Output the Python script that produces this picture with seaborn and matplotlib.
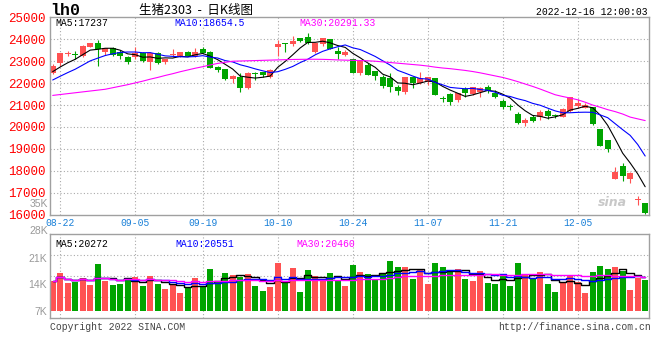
import numpy as np
import pandas as pd
import matplotlib
matplotlib.use("Agg")
import matplotlib.pyplot as plt
import seaborn as sns

sns.set_theme(style="white")
plt.rcParams["font.family"] = ["Liberation Mono", "DejaVu Sans"]

# daily k-line, 08-19 .. 12-16
opens = [22478, 22904, 23345, 23330, 23238, 23664, 23816, 23436, 23603, 23405,
         23177, 23208, 23360, 22980, 23390, 22965, 23300, 23238, 23421, 23238,
         23558, 23405, 22736, 22660, 22174, 22265, 21793, 22432, 22493, 22295,
         23634, 23800, 23771, 24060, 24121, 23406, 23786, 23999, 23466, 23299,
         23086, 22447, 22828, 22569, 22295, 22219, 21839, 21611, 22295, 21991,
         22067, 22250, 21272, 21504, 21231, 21732, 21504, 21611, 21839, 21565,
         21185, 20942, 20577, 20166, 20470, 20440, 20729, 20516, 20470, 20744,
         20957, 20881, 20896, 19907, 19405, 17641, 18219, 17611, 16660, 16546]
highs = [22873, 23390, 23482, 23466, 23725, 23840, 23968, 23603, 23634, 23512,
         23238, 23664, 23405, 23405, 23421, 23117, 23542, 23436, 23450, 23588,
         23664, 23466, 22797, 22660, 22371, 22447, 22523, 22523, 22523, 22630,
         23968, 23847, 24151, 24060, 24273, 23816, 24045, 24030, 23634, 23512,
         23117, 23056, 22904, 22569, 22371, 22447, 21915, 22295, 22295, 22523,
         22295, 22250, 21413, 21565, 21565, 21839, 21839, 21839, 21915, 21690,
         21276, 21048, 20698, 20394, 20546, 20774, 20805, 20592, 20851, 21352,
         21261, 21078, 20896, 19907, 19405, 18189, 18371, 17930, 16850, 16546]
lows = [22417, 22782, 23238, 23086, 23208, 23650, 22797, 23284, 23238, 23117,
        22858, 23117, 22980, 22600, 22889, 22889, 23208, 23208, 23238, 23200,
        23360, 22706, 22530, 22143, 21991, 21611, 21717, 22143, 22265, 22219,
        23253, 23436, 23710, 23900, 23786, 23360, 23710, 23542, 23117, 23238,
        22447, 22371, 22371, 22143, 21793, 21611, 21444, 21505, 21793, 21960,
        21915, 21459, 21124, 21002, 21154, 21352, 21459, 21383, 21565, 21307,
        20805, 20775, 20136, 20060, 20242, 20318, 20349, 20394, 20440, 20698,
        20851, 20851, 20090, 19147, 18873, 17611, 17550, 17428, 16440, 16030]
closes = [22782, 23360, 23360, 23300, 23695, 23816, 23542, 23603, 23299, 23253,
          22980, 23360, 23025, 23360, 22934, 23086, 23315, 23421, 23238, 23405,
          23390, 22706, 22615, 22174, 22326, 21793, 22447, 22417, 22356, 22599,
          23786, 23786, 23923, 23938, 23847, 23816, 24045, 23542, 23330, 23421,
          22478, 23010, 22371, 22326, 21869, 21839, 21641, 22295, 21991, 22250,
          22295, 21459, 21257, 21154, 21535, 21565, 21809, 21763, 21657, 21352,
          20896, 20927, 20196, 20318, 20288, 20698, 20501, 20501, 20805, 21352,
          21078, 21002, 20136, 19147, 19010, 17960, 17763, 17900, 16675, 16059]
volumes = [14870, 16970, 14350, 14520, 15660, 13910, 19340, 14870, 13910, 14170,
           15660, 16010, 13650, 16270, 14170, 12770, 14170, 11810, 13040, 15660,
           13390, 18020, 14870, 16970, 16540, 16010, 16710, 13650, 12340, 13390,
           19690, 14610, 18370, 12070, 17760, 16270, 14870, 16970, 15000, 13560,
           19070, 17240, 16710, 15140, 16970, 20120, 18550, 18550, 15400, 18020,
           14090, 19600, 18550, 17240, 18020, 15400, 14870, 17500, 14350, 14090,
           16450, 13560, 19600, 16450, 15660, 17240, 14090, 11990, 14610, 16450,
           14610, 11720, 17240, 18810, 18020, 18550, 17500, 12510, 15660, 15140]
# closes before the window, only used to start the short averages
pre_closes = [21650, 21700, 21750, 21800, 21910, 22300, 22400, 22500, 22640]
ma30 = [21440, 21480, 21520, 21560, 21600, 21640, 21680, 21720, 21790, 21860,
        21930, 22010, 22090, 22180, 22260, 22350, 22430, 22520, 22600, 22680,
        22750, 22830, 22900, 22950, 23000, 23010, 23020, 23030, 23040, 23050,
        23060, 23070, 23080, 23085, 23090, 23090, 23085, 23075, 23060, 23050,
        23040, 23030, 23020, 23000, 22970, 22940, 22910, 22880, 22850, 22820,
        22780, 22730, 22690, 22660, 22620, 22580, 22530, 22470, 22400, 22330,
        22260, 22170, 22070, 21960, 21850, 21730, 21600, 21470, 21390, 21320,
        21240, 21130, 21000, 20900, 20790, 20700, 20590, 20450, 20370, 20291]

tick_pos = [1, 11, 20, 30, 40, 50, 60, 70]
tick_labels = ["08-22", "09-05", "09-19", "10-10", "10-24", "11-07", "11-21", "12-05"]
price_ticks = list(range(16000, 25001, 1000))
vol_ticks = [7000, 14000, 21000]
vol_ticks_extra = [(28000, "28K"), (35000, "35K")]

RED = "#ff5252"
GREEN = "#00a400"
MA_COLORS = {"ma5": "black", "ma10": "#0000ff", "ma30": "#ff00ff"}
GRID = dict(color="#aaaaaa", linestyle=(0, (1, 2)), linewidth=0.8)

df = pd.DataFrame({"open": opens, "high": highs, "low": lows,
                   "close": closes, "volume": volumes})
df["x"] = np.arange(len(df))
full = pd.Series(pre_closes + closes, dtype=float)
n_pre = len(pre_closes)
df["ma5"] = full.rolling(5).mean().iloc[n_pre:].values
df["ma10"] = full.rolling(10).mean().iloc[n_pre:].values
df["ma30"] = ma30
df["vma5"] = df["volume"].rolling(5, min_periods=1).mean()
df["vma10"] = df["volume"].rolling(10, min_periods=1).mean()
df["vma30"] = df["volume"].rolling(30, min_periods=1).mean()
up = df["close"] >= df["open"]
df["color"] = np.where(up, RED, GREEN)
df["body_lo"] = df[["open", "close"]].min(axis=1)
df["body_h"] = (df["close"] - df["open"]).abs().clip(lower=45)

W, H = 660, 360
fig = plt.figure(figsize=(W / 100, H / 100), dpi=100)


def box(l, t, r, b):
    return [l / W, 1 - b / H, (r - l) / W, (b - t) / H]


ax = fig.add_axes(box(50, 17.4, 649, 214.6))
axv = fig.add_axes(box(50, 234, 649, 318))

# price candles
ax.vlines(df["x"], df["low"], df["high"], colors=df["color"], linewidth=0.8)
ax.bar(df["x"], df["body_h"], bottom=df["body_lo"], width=0.82,
       color=df["color"], linewidth=0)
for col, c in MA_COLORS.items():
    sns.lineplot(data=df, x="x", y=col, ax=ax, color=c, linewidth=0.8)

# volume
axv.bar(df["x"], df["volume"] - 7000, bottom=7000, width=0.82,
        color=df["color"], linewidth=0)
for col, c in zip(["vma5", "vma10", "vma30"], MA_COLORS.values()):
    sns.lineplot(data=df, x="x", y=col, ax=axv, color=c, linewidth=1.0,
                 drawstyle="steps-mid")

for a in (ax, axv):
    a.set_xlim(-0.36, 79.51)
    a.set_xticks(tick_pos)
    a.set_xlabel("")
    a.set_ylabel("")
    a.grid(False)
    for x in tick_pos:
        a.axvline(x, zorder=0, **GRID)
    for s in a.spines.values():
        s.set_color("#a0a0a0")
        s.set_linewidth(1)
    a.tick_params(length=0)

ax.set_ylim(16000, 25000)
ax.set_yticks(price_ticks)
ax.set_yticklabels([str(v) for v in price_ticks])
for v in price_ticks[1:-1]:
    ax.axhline(v, zorder=0, **GRID)
ax.tick_params(axis="y", colors="#ff0000", labelsize=9, pad=2.9)
ax.set_xticklabels(tick_labels)
ax.tick_params(axis="x", colors="#1a80d8", labelsize=7, pad=2.4)

axv.set_ylim(7000 - 7 / 3.81 * 1000, 28000 - 3 / 3.81 * 1000)
axv.set_yticks(vol_ticks)
axv.set_yticklabels([f"{v // 1000}K" for v in vol_ticks], family="Liberation Sans")
axv.tick_params(axis="y", colors="#999999", labelsize=7.5, pad=2.2)
axv.set_xticklabels([])
for f in (0.25, 0.5, 0.75):
    axv.axhline(axv.get_ylim()[0] + f * (axv.get_ylim()[1] - axv.get_ylim()[0]),
                zorder=0, **GRID)
for v, lab in vol_ticks_extra:
    axv.text(-0.004, v, lab, transform=axv.get_yaxis_transform(), ha="right",
             va="center", color="#999999", fontsize=7.5, family="Liberation Sans",
             clip_on=False)


def ftext(x, y, s, **kw):
    fig.text(x / W, 1 - y / H, s, va="center", **kw)


ftext(50, 10.5, "lh0", fontsize=12, fontweight="bold", color="black")
ftext(139, 10.5, "生猪2303  -  日K线图", fontsize=9, color="black",
      family=["Noto Sans CJK SC", "DejaVu Sans"])
ftext(648, 12, "2022-12-16 12:00:03", fontsize=7, ha="right", color="black")
ftext(55, 23.5, "MA5:17237", fontsize=7, color="black")
ftext(174, 23.5, "MA10:18654.5", fontsize=7, color="#0000ff")
ftext(299, 23.5, "MA30:20291.33", fontsize=7, color="#ff00ff")
ftext(55, 244, "MA5:20272", fontsize=7, color="black")
ftext(175, 244, "MA10:20551", fontsize=7, color="#0000ff")
ftext(296, 244, "MA30:20460", fontsize=7, color="#ff00ff")
ftext(50, 327, "Copyright 2022 SINA.COM", fontsize=7, color="#444444")
ftext(651, 327, "http://finance.sina.com.cn", fontsize=7, ha="right", color="#444444")
ftext(598, 203, "sina", fontsize=9, fontstyle="italic", fontweight="bold",
      color="#bbbbbb", alpha=0.8, family="DejaVu Sans")

fig.savefig("out.png", dpi=100)
